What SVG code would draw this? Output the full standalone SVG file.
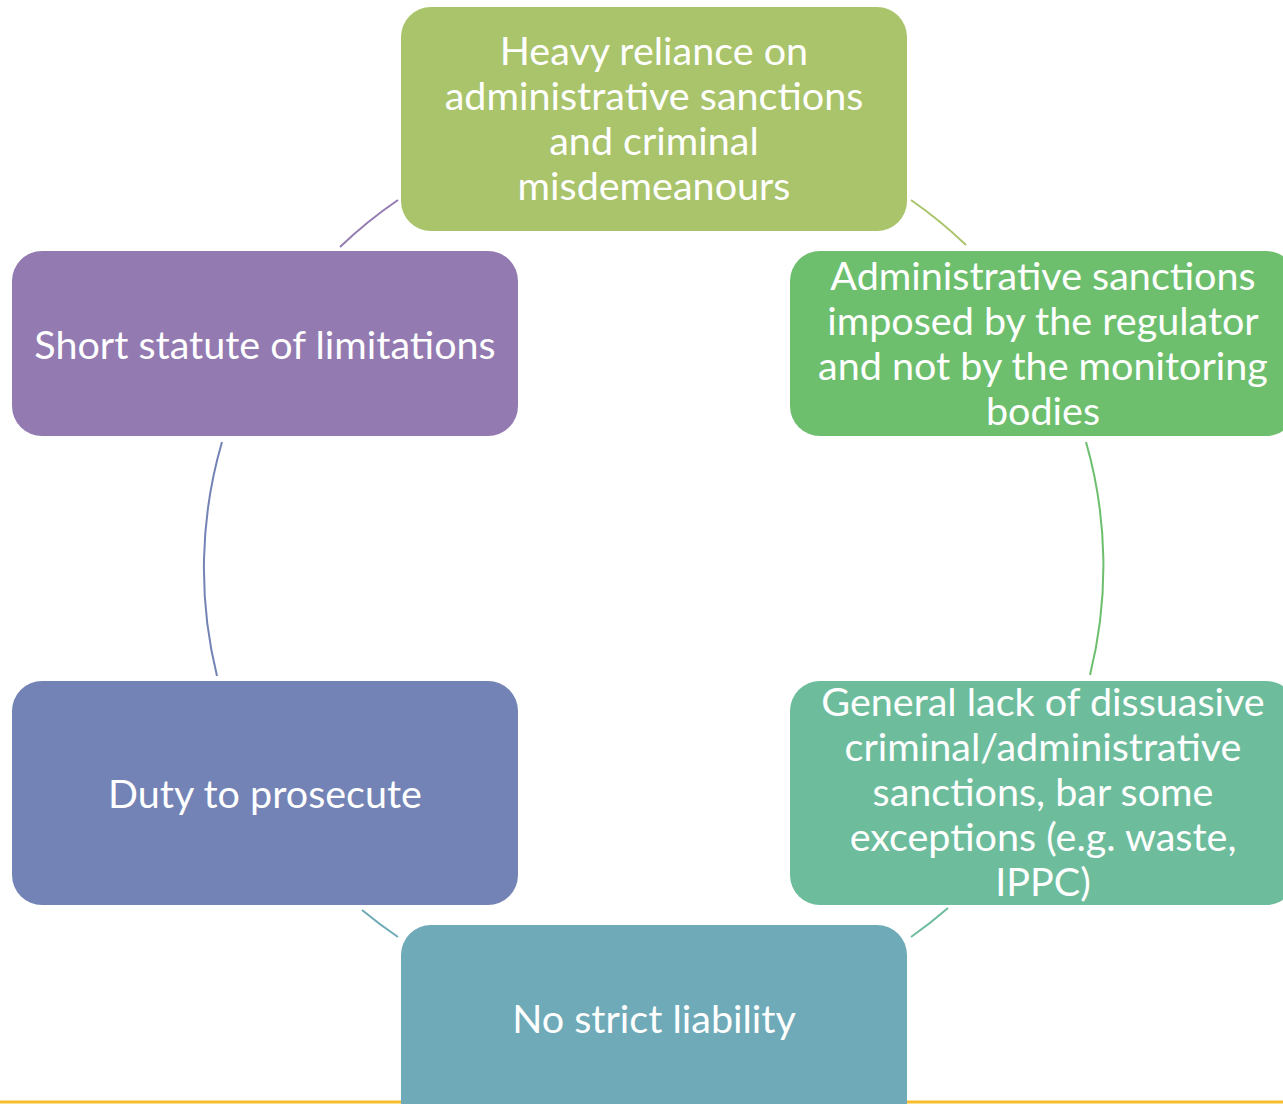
<svg xmlns="http://www.w3.org/2000/svg" width="1283" height="1104" viewBox="0 0 1283 1104">
<style>
.t{font-family:Lato,"Liberation Sans",sans-serif;font-size:39.5px;fill:#fff;text-anchor:middle}
.c{fill:none;stroke-width:2}
</style>
<rect width="1283" height="1104" fill="#fff"/>
<line x1="0" y1="1102" x2="1283" y2="1102" stroke="#F7BE2E" stroke-width="3"/>
<g id="connectors">
<path class="c" stroke="#A9C46B" d="M911,200 A450,450 0 0 1 966,245"/>
<path class="c" stroke="#6DBF6E" d="M1086,442 A450,450 0 0 1 1090,675"/>
<path class="c" stroke="#6DBD9D" d="M948,908 A450,450 0 0 1 911,937"/>
<path class="c" stroke="#6FAAB8" d="M398,937 A450,450 0 0 1 362,910"/>
<path class="c" stroke="#7383B5" d="M217,676 A450,450 0 0 1 222,442"/>
<path class="c" stroke="#937AB1" d="M340,247 A450,450 0 0 1 398,200"/>
</g>
<g id="n1">
<rect x="401" y="7" width="506" height="224" rx="30" fill="#A9C46B"/>
<text class="t" x="654"><tspan x="654" y="65">Heavy reliance on</tspan><tspan x="654" y="110">administrative sanctions</tspan><tspan x="654" y="155">and criminal</tspan><tspan x="654" y="200">misdemeanours</tspan></text>
</g>
<g id="n2">
<rect x="790" y="251" width="506" height="185" rx="30" fill="#6DBF6E"/>
<text class="t"><tspan x="1043" y="290">Administrative sanctions</tspan><tspan x="1043" y="335">imposed by the regulator</tspan><tspan x="1043" y="380">and not by the monitoring</tspan><tspan x="1043" y="425">bodies</tspan></text>
</g>
<g id="n3">
<rect x="790" y="681" width="506" height="224" rx="30" fill="#6DBD9D"/>
<text class="t"><tspan x="1043" y="716">General lack of dissuasive</tspan><tspan x="1043" y="761">criminal/administrative</tspan><tspan x="1043" y="806">sanctions, bar some</tspan><tspan x="1043" y="851">exceptions (e.g. waste,</tspan><tspan x="1043" y="896">IPPC)</tspan></text>
</g>
<g id="n4">
<rect x="401" y="925" width="506" height="224" rx="30" fill="#6FAAB8"/>
<text class="t" x="654" y="1033">No strict liability</text>
</g>
<g id="n5">
<rect x="12" y="681" width="506" height="224" rx="30" fill="#7383B5"/>
<text class="t" x="265" y="808">Duty to prosecute</text>
</g>
<g id="n6">
<rect x="12" y="251" width="506" height="185" rx="30" fill="#937AB1"/>
<text class="t" x="265" y="359">Short statute of limitations</text>
</g>
</svg>
